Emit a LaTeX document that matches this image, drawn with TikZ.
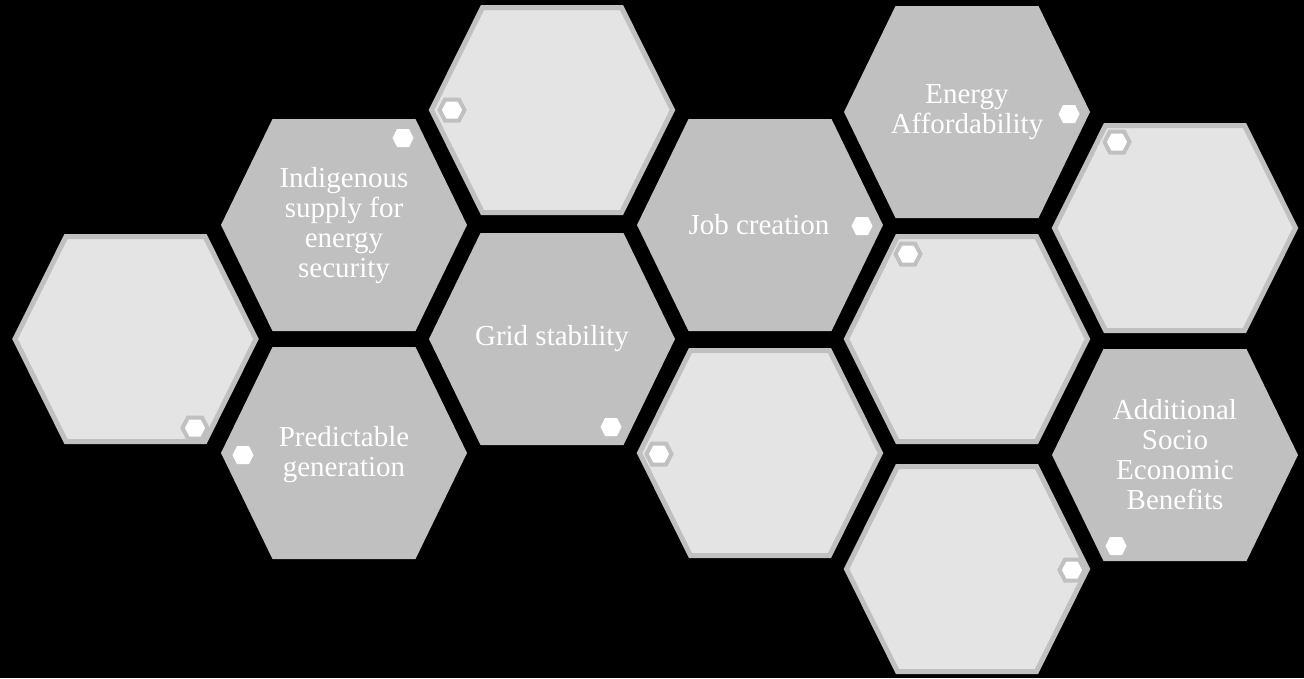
\documentclass[tikz,border=0pt]{standalone}
\usepackage{fontspec}
\setmainfont{Liberation Serif}
\definecolor{darkhex}{HTML}{C0C0C0}
\definecolor{lighthex}{HTML}{E4E4E4}
\tikzset{
  lightcell/.style={fill=lighthex, draw=darkhex, line width=5pt, line join=miter},
  darkcell/.style={fill=darkhex},
  dotlight/.style={fill=white, draw=darkhex, line width=4pt},
  dotdark/.style={fill=white},
  hextext/.style={text=white, font=\fontsize{29}{30}\selectfont, align=center, inner sep=0pt}
}
% #1 style, #2 x, #3 y, #4 half width, #5 half height, #6 half top edge
\newcommand\hexcell[6]{%
  \path[#1] ({#2-#4},{#3}) -- ({#2-#6},{#3-#5}) -- ({#2+#6},{#3-#5}) -- ({#2+#4},{#3}) -- ({#2+#6},{#3+#5}) -- ({#2-#6},{#3+#5}) -- cycle;}
\newcommand\lightcellat[2]{\hexcell{lightcell}{#1}{#2}{120.5}{102.5}{69.5}}
\newcommand\darkcellat[2]{\hexcell{darkcell}{#1}{#2}{123}{106}{71.5}}
\newcommand\dotlightat[2]{\hexcell{dotlight}{#1}{#2}{12.5}{10.5}{7}}
\newcommand\dotdarkat[2]{\hexcell{dotdark}{#1}{#2}{10.5}{9}{6}}
\begin{document}
\begin{tikzpicture}[x=1pt,y=-1pt]
\fill[black] (0,0) rectangle (1304,678);
\useasboundingbox (0,0) rectangle (1304,678);
% column 1
\lightcellat{135.5}{339}
\dotlightat{195}{428}
% column 2
\darkcellat{344}{225}
\dotdarkat{403}{138}
\node[hextext] (indig) at (344,226) {Indigenous\\supply for\\energy\\security};
\darkcellat{344}{453}
\dotdarkat{243}{455}
\node[hextext] (pred) at (344,455) {Predictable\\generation};
% column 3
\lightcellat{552}{110}
\dotlightat{452}{110}
\darkcellat{552}{339}
\dotdarkat{611}{427}
\node[hextext] (grid) at (552,339) {Grid stability};
% column 4
\darkcellat{760}{225}
\dotdarkat{862}{226}
\node[hextext] (job) at (759,225) {Job creation};
\lightcellat{760}{453}
\dotlightat{659}{454}
% column 5
\darkcellat{967}{112}
\dotdarkat{1069}{114}
\node[hextext] (afford) at (967,112) {Energy\\Affordability};
\lightcellat{967}{339}
\dotlightat{908}{254}
\lightcellat{967}{569}
\dotlightat{1072}{570}
% column 6
\lightcellat{1175}{228}
\dotlightat{1117}{142}
\darkcellat{1175}{455}
\dotdarkat{1116}{546}
\node[hextext] (socio) at (1175,455) {Additional\\Socio\\Economic\\Benefits};
\end{tikzpicture}
\end{document}
